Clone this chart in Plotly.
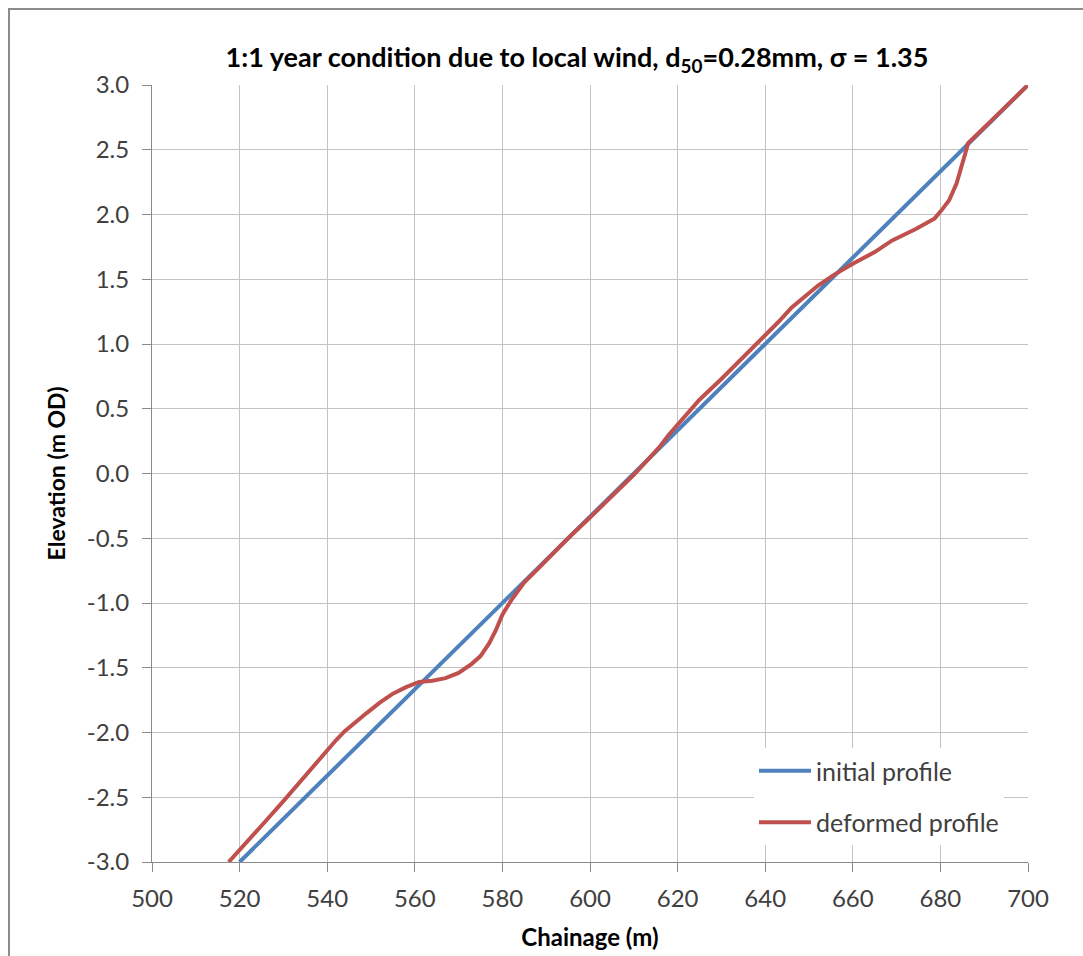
import plotly.graph_objects as go

# ---- data ----
initial_x = [520, 550, 580, 610, 640, 670, 700]
initial_y = [-3.0, -2.0, -1.0, 0.0, 1.0, 2.0, 3.0]

deformed_x = [517.5, 520, 525, 530, 535, 540, 542, 544, 546, 549, 552, 555, 558, 561,
              564, 567, 570, 573, 575, 577, 578.5, 580, 582, 585, 588, 590, 595,
              600, 605, 610, 613, 616, 618, 620, 622, 625, 630, 635, 640, 643, 646,
              649, 652, 655.5, 660, 665, 669, 674.5, 678.7, 680.2, 682, 683.7, 685.2,
              686, 686.3, 690, 695, 700]
deformed_y = [-3.0, -2.91, -2.72, -2.53, -2.33, -2.14, -2.06, -1.99, -1.93, -1.85,
              -1.77, -1.70, -1.65, -1.61, -1.60, -1.58, -1.54, -1.47, -1.41, -1.31,
              -1.21, -1.09, -0.98, -0.84, -0.74, -0.67, -0.50, -0.34, -0.18, -0.01,
              0.10, 0.21, 0.30, 0.38, 0.46, 0.57, 0.73, 0.90, 1.06, 1.17, 1.28, 1.37,
              1.45, 1.53, 1.62, 1.71, 1.80, 1.89, 1.97, 2.03, 2.11, 2.24, 2.40, 2.51,
              2.55, 2.67, 2.83, 3.0]

x_tick_vals = [500, 520, 540, 560, 580, 600, 620, 640, 660, 680, 700]
x_tick_text = ["500", "520", "540", "560", "580", "600", "620", "640", "660", "680", "700"]
y_tick_vals = [-3.0, -2.5, -2.0, -1.5, -1.0, -0.5, 0.0, 0.5, 1.0, 1.5, 2.0, 2.5, 3.0]
y_tick_text = ["-3.0", "-2.5", "-2.0", "-1.5", "-1.0", "-0.5", "0.0", "0.5", "1.0",
               "1.5", "2.0", "2.5", "3.0"]

series_names = ["initial profile", "deformed profile"]
series_colors = ["#4F81BD", "#C0504D"]

FONT = "Lato"
W, H = 1083, 956
L, R, T, B = 152, 55, 85, 94

fig = go.Figure()
fig.add_trace(go.Scatter(x=initial_x, y=initial_y, mode="lines", name=series_names[0],
                         legendgroup="a",
                         line=dict(color=series_colors[0], width=4)))
fig.add_trace(go.Scatter(x=deformed_x, y=deformed_y, mode="lines", name=series_names[1],
                         legendgroup="b",
                         line=dict(color=series_colors[1], width=4)))

axis_common = dict(
    showgrid=True, gridcolor="#c3c3c3", gridwidth=1,
    showline=True, linecolor="#8a8a8a", linewidth=1,
    ticks="outside", ticklen=9, tickcolor="#8a8a8a", tickwidth=1,
    zeroline=False,
    tickfont=dict(family=FONT, size=24, color="#404040"),
)

fig.update_xaxes(range=[500, 700], tickvals=x_tick_vals, ticktext=x_tick_text,
                 title=dict(text="<b>Chainage (m)</b>", standoff=18,
                            font=dict(family=FONT, size=24, color="#000000")),
                 ticklabelstandoff=6, **axis_common)
fig.update_yaxes(range=[-3, 3], tickvals=y_tick_vals, ticktext=y_tick_text,
                 title=dict(text="<b>Elevation (m OD)</b>", standoff=14,
                            font=dict(family=FONT, size=23, color="#000000")),
                 ticklabelstandoff=8, **axis_common)

# outer chart-area border
pw, ph = W - L - R, H - T - B
def px_x(p):
    return (p - L) / pw
def px_y(p):
    return (H - B - p) / ph

fig.add_shape(type="rect", xref="paper", yref="paper",
              x0=px_x(9), x1=px_x(W + 20), y0=px_y(H + 20), y1=px_y(9),
              line=dict(color="#8c8c8c", width=2), fillcolor="rgba(0,0,0,0)",
              layer="above")

fig.update_layout(
    width=W, height=H,
    margin=dict(l=L, r=R, t=T, b=B, autoexpand=False),
    paper_bgcolor="white", plot_bgcolor="white",
    title=dict(text="<b>1:1 year condition due to local wind, d<sub>50</sub>=0.28mm, σ = 1.35</b>",
               x=px_x(577), xref="paper", xanchor="center",
               y=1 - 58 / H, yref="container", yanchor="middle",
               font=dict(family=FONT, size=27, color="#000000")),
    legend=dict(x=px_x(754), y=px_y(748), xanchor="left", yanchor="top",
                bgcolor="white", borderwidth=0, tracegroupgap=16,
                font=dict(family=FONT, size=25, color="#404040"),
                itemwidth=52),
    showlegend=True,
)

fig.write_html("out.html")
